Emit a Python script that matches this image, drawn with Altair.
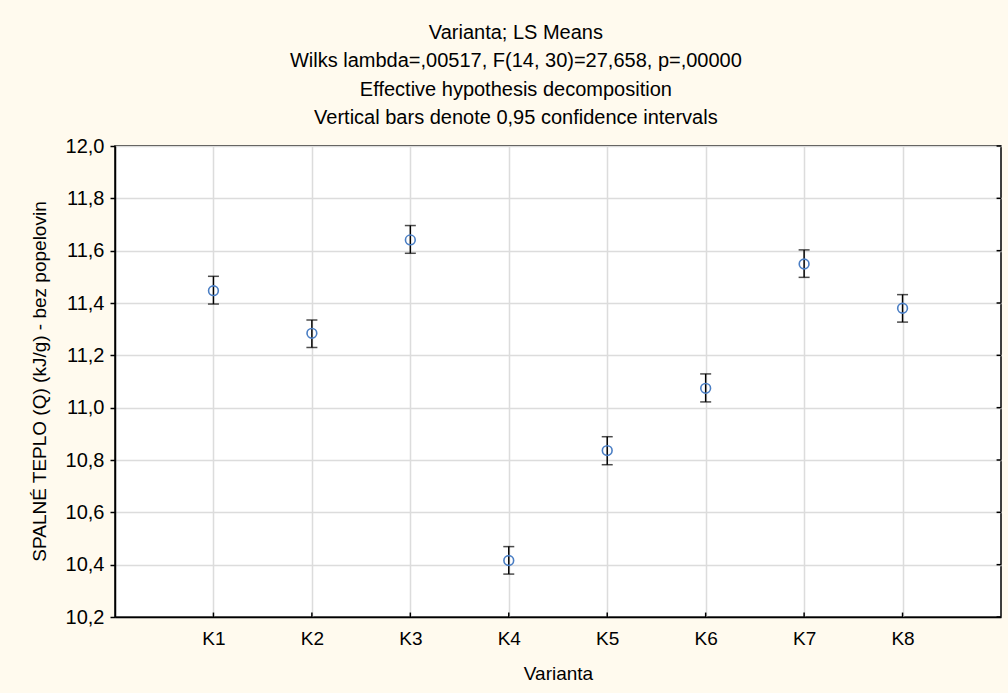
import altair as alt
import pandas as pd

# LS means of the combustion heat per variant with 0.95 confidence limits
variants = ["K1", "K2", "K3", "K4", "K5", "K6", "K7", "K8"]
positions = [1, 2, 3, 4, 5, 6, 7, 8]
means = [11.447, 11.284, 11.641, 10.416, 10.836, 11.074, 11.549, 11.380]
lower = [11.396, 11.230, 11.590, 10.364, 10.782, 11.022, 11.498, 11.327]
upper = [11.502, 11.335, 11.696, 10.469, 10.889, 11.129, 11.603, 11.432]
y_ticks = [10.2, 10.4, 10.6, 10.8, 11.0, 11.2, 11.4, 11.6, 11.8, 12.0]

df = pd.DataFrame({"pos": positions, "variant": variants,
                   "mean": means, "lo": lower, "hi": upper})
yt = pd.DataFrame({"v": y_ticks})
xt = pd.DataFrame({"pos": positions})

FONT = "Liberation Sans"
xscale = alt.Scale(domain=[0, 9], nice=False, zero=False)
yscale = alt.Scale(domain=[10.2, 12.0], nice=False, zero=False)

x_axis = alt.Axis(values=positions, labelExpr="'K' + datum.value",
                  title="Varianta", grid=True, ticks=False,
                  labelFontSize=19, titleFontSize=19, labelPadding=12,
                  titlePadding=16,
                  gridColor="#dcdcdc", gridWidth=1.5,
                  domainColor="black", domainWidth=1.5)
y_axis = alt.Axis(values=y_ticks,
                  labelExpr="replace(format(datum.value, '.1f'), '.', ',')",
                  title="SPALNÉ TEPLO (Q) (kJ/g) - bez popelovin",
                  grid=True, tickSize=5, tickColor="black", tickWidth=1.5,
                  labelFontSize=20, titleFontSize=19, labelPadding=6,
                  gridColor="#dcdcdc", gridWidth=1.5,
                  domainColor="black", domainWidth=1.5,
                  titleX=-70, titleY=235, titleAngle=-90,
                  titleBaseline="alphabetic", titleAlign="center")

base = alt.Chart(df)

bars = base.mark_rule(color="black", strokeWidth=1.5).encode(
    x=alt.X("pos:Q", scale=xscale, axis=x_axis),
    y=alt.Y("lo:Q", scale=yscale, axis=y_axis),
    y2="hi:Q",
)
caps_hi = base.mark_tick(color="black", thickness=1.5, size=11,
                         orient="horizontal").encode(x="pos:Q", y="hi:Q")
caps_lo = base.mark_tick(color="black", thickness=1.5, size=11,
                         orient="horizontal").encode(x="pos:Q", y="lo:Q")
points = base.mark_point(shape="circle", filled=False, color="#4a7ec4",
                         strokeWidth=1.6, size=95, opacity=1).encode(
    x="pos:Q", y="mean:Q")

# inward ticks on the bottom and right frame edges
x_inner = alt.Chart(xt).mark_rule(color="black", strokeWidth=1.5).encode(
    x="pos:Q", y=alt.datum(10.2), y2=alt.datum(10.217))
y_inner = alt.Chart(yt).mark_rule(color="black", strokeWidth=1.5).encode(
    y="v:Q", x=alt.datum(9.0), x2=alt.datum(8.955))

chart = alt.layer(x_inner, y_inner, bars, caps_hi, caps_lo, points).properties(
    width=886, height=471,
    padding={"left": 115, "top": 146, "right": 7, "bottom": 76},
    autosize=alt.AutoSizeParams(type="none"),
    background="#fffaee",
    title=alt.Title(
        ["Varianta; LS Means",
         "Wilks lambda=,00517, F(14, 30)=27,658, p=,00000",
         "Effective hypothesis decomposition",
         "Vertical bars denote 0,95 confidence intervals"],
        fontSize=20, font=FONT, fontWeight="normal", color="black",
        lineHeight=28.5, anchor="middle", frame="bounds", offset=8),
).configure(font=FONT).configure_view(
    fill="white", stroke="black", strokeWidth=1.5
).configure_axis(labelColor="black", titleColor="black",
                 titleFontWeight="normal", labelFont=FONT, titleFont=FONT)

chart.save("out.html", embed_options={"renderer": "svg", "actions": False})
